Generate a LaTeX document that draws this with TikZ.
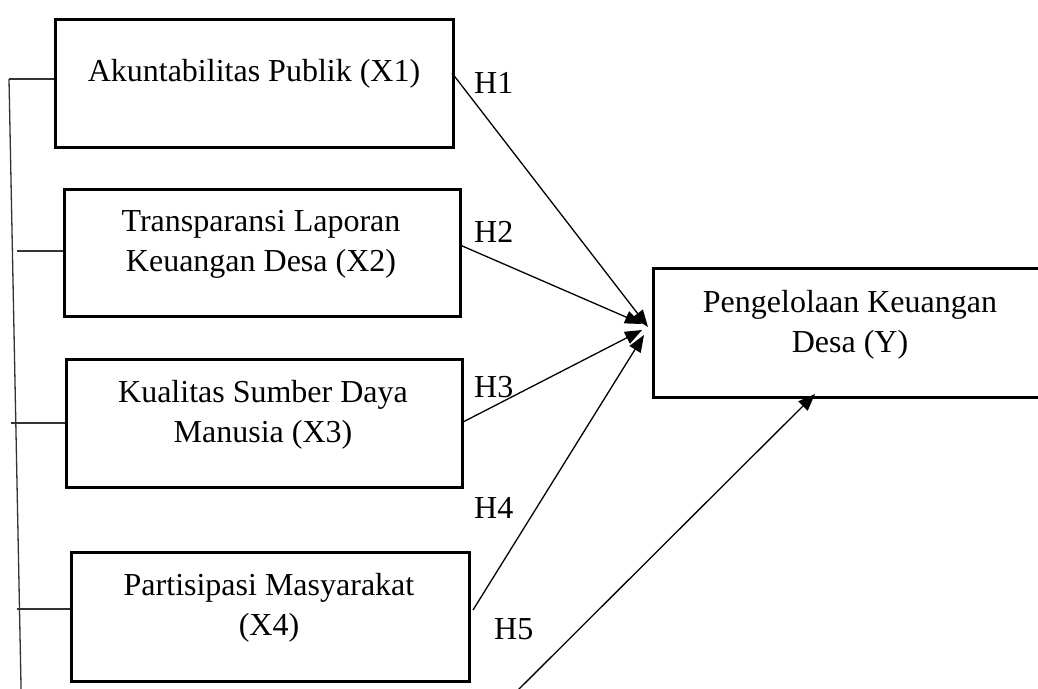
\documentclass[tikz,border=0pt]{standalone}
\usepackage{fontspec}
\setmainfont{Liberation Serif}
\usetikzlibrary{arrows.meta,calc}
\begin{document}
\begin{tikzpicture}[x=1pt,y=-1pt,
  boxnode/.style={draw, line width=2.6pt, inner sep=0pt, anchor=north west},
  lbl/.style={font=\fontsize{32}{39.5}\selectfont, align=center, inner sep=0pt, anchor=base},
  hlbl/.style={font=\fontsize{32}{39.5}\selectfont, inner sep=0pt, anchor=base west},
  conn/.style={line width=1.3pt, -{Triangle[length=17pt,width=13pt]}},
  tick/.style={line width=1.3pt, draw=black!80}]
\useasboundingbox (0,0) rectangle (1038,688);
\clip (0,0) rectangle (1038,688);
% boxes
\node[boxnode, minimum width=398pt, minimum height=128pt] (x1) at (54,18) {};
\node[boxnode, minimum width=396pt, minimum height=127pt] (x2) at (63,188) {};
\node[boxnode, minimum width=396pt, minimum height=128pt] (x3) at (65,358) {};
\node[boxnode, minimum width=398pt, minimum height=129pt] (x4) at (70,551) {};
\node[boxnode, minimum width=393pt, minimum height=129pt] (y) at (652,267) {};
% texts (base anchor = baseline of the last line)
\node[lbl] (t1) at (254,81) {Akuntabilitas Publik (X1)};
\node[lbl] (t2) at (261,271) {Transparansi Laporan\\Keuangan Desa (X2)};
\node[lbl] (t3) at (263,442) {Kualitas Sumber Daya\\Manusia (X3)};
\node[lbl] (t4) at (269,635) {Partisipasi Masyarakat\\(X4)};
\node[lbl] (ty) at (850,352) {Pengelolaan Keuangan\\Desa (Y)};
% hypothesis labels
\node[hlbl] (h1) at (474,93) {H1};
\node[hlbl] (h2) at (474,242) {H2};
\node[hlbl] (h3) at (474,397) {H3};
\node[hlbl] (h4) at (474,518) {H4};
\node[hlbl] (h5) at (494,639) {H5};
% connector points
\coordinate (s1) at (452,73);
\coordinate (s2) at (460,245);
\coordinate (s3) at (463,422);
\coordinate (s4) at (473,610);
\coordinate (s5) at (505,703);
\coordinate (e1) at (648,327);
\coordinate (e2) at (642,324);
\coordinate (e3) at (642,330);
\coordinate (e4) at (644,335);
\coordinate (e5) at (815,394);
\draw[conn] (s1) -- (e1);
\draw[conn] (s2) -- (e2);
\draw[conn] (s3) -- (e3);
\draw[conn] (s4) -- (e4);
\draw[conn] (s5) -- (e5);
% left bracket
\coordinate (ltop) at (9,79);
\coordinate (lbot) at (21.3,700);
\draw[tick] (ltop) -- (lbot);
\coordinate (k1) at (9,79);
\coordinate (k2) at (17,251);
\coordinate (k3) at (11,423);
\coordinate (k4) at (17,609);
\draw[tick] (k1) -- (k1 -| x1.west);
\draw[tick] (k2) -- (k2 -| x2.west);
\draw[tick] (k3) -- (k3 -| x3.west);
\draw[tick] (k4) -- (k4 -| x4.west);
\end{tikzpicture}
\end{document}
